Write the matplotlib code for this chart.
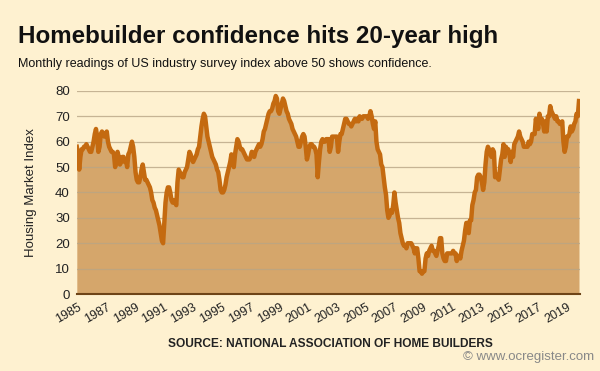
import numpy as np
import matplotlib
matplotlib.use("Agg")
import matplotlib.pyplot as plt

# Monthly NAHB housing market index readings, Jan 1985 - Dec 2019
hmi_by_year = {
    1985: [58, 55, 49, 54, 57, 57, 58, 58, 59, 58, 57, 56],
    1986: [56, 58, 60, 63, 65, 62, 56, 58, 63, 64, 63, 62],
    1987: [63, 64, 60, 58, 57, 56, 56, 55, 50, 53, 56, 54],
    1988: [51, 52, 54, 54, 52, 53, 50, 55, 56, 58, 60, 58],
    1989: [54, 48, 45, 44, 44, 46, 49, 51, 48, 45, 45, 44],
    1990: [43, 42, 40, 37, 36, 34, 33, 31, 29, 27, 24, 21],
    1991: [20, 28, 36, 40, 42, 42, 40, 37, 36, 37, 36, 35],
    1992: [44, 49, 48, 47, 46, 46, 48, 49, 50, 53, 56, 55],
    1993: [53, 52, 53, 54, 55, 57, 58, 62, 66, 69, 71, 70],
    1994: [66, 62, 60, 58, 56, 54, 53, 52, 51, 49, 48, 45],
    1995: [41, 40, 40, 41, 43, 46, 48, 50, 52, 55, 53, 50],
    1996: [55, 58, 61, 60, 58, 57, 57, 56, 55, 54, 53, 53],
    1997: [53, 54, 56, 55, 54, 56, 57, 58, 59, 58, 59, 61],
    1998: [64, 65, 67, 69, 71, 72, 72, 73, 75, 76, 78, 77],
    1999: [72, 71, 73, 75, 77, 76, 74, 72, 71, 69, 68, 67],
    2000: [65, 64, 63, 62, 60, 58, 58, 60, 62, 63, 62, 58],
    2001: [53, 55, 58, 59, 59, 58, 58, 57, 55, 46, 52, 57],
    2002: [60, 61, 60, 60, 61, 61, 61, 56, 58, 62, 62, 62],
    2003: [62, 62, 56, 60, 63, 63, 65, 67, 69, 69, 68, 67],
    2004: [67, 66, 67, 68, 69, 68, 69, 68, 70, 69, 69, 70],
    2005: [70, 70, 70, 69, 70, 72, 70, 67, 65, 68, 60, 57],
    2006: [56, 55, 51, 50, 46, 42, 39, 33, 30, 31, 33, 32],
    2007: [35, 40, 36, 33, 30, 28, 24, 22, 20, 19, 19, 18],
    2008: [20, 20, 20, 20, 19, 18, 16, 18, 18, 14, 9, 9],
    2009: [8, 9, 9, 14, 16, 15, 17, 18, 19, 17, 17, 16],
    2010: [15, 17, 19, 22, 22, 16, 14, 13, 13, 16, 16, 16],
    2011: [16, 16, 17, 16, 16, 13, 15, 15, 14, 17, 19, 21],
    2012: [25, 28, 28, 24, 29, 29, 35, 37, 40, 41, 46, 47],
    2013: [47, 46, 44, 41, 44, 51, 56, 58, 57, 55, 54, 57],
    2014: [56, 46, 47, 46, 45, 49, 53, 55, 59, 54, 58, 57],
    2015: [57, 55, 52, 56, 54, 59, 60, 61, 62, 64, 62, 61],
    2016: [60, 58, 58, 58, 58, 60, 59, 60, 63, 63, 63, 69],
    2017: [67, 65, 71, 68, 69, 67, 64, 68, 64, 70, 70, 74],
    2018: [72, 71, 70, 69, 70, 68, 68, 67, 67, 68, 60, 56],
    2019: [58, 62, 62, 63, 66, 64, 65, 67, 68, 71, 70, 76],
}
tick_years = list(range(1985, 2020, 2))
y_ticks = [0, 10, 20, 30, 40, 50, 60, 70, 80]

years = []
values = []
for yr, months in hmi_by_year.items():
    for m, v in enumerate(months):
        years.append(yr + m / 12)
        values.append(v)
years = np.array(years)
values = np.array(values)

bg = "#FEF1D0"
fig = plt.figure(figsize=(6, 3.71), dpi=100, facecolor=bg)
ax = fig.add_axes([0.128, 0.2075, 0.839, 0.5475], facecolor=bg)

ax.fill_between(years, values, 0, color="#D5A66B", zorder=1, linewidth=0)
ax.plot(years, values, color="#C46A10", linewidth=3.2, zorder=3, solid_joinstyle="round")

ax.set_xlim(1985, 2020)
ax.set_ylim(0, 80)
ax.set_yticks(y_ticks)
# year labels sit about half a year to the right of January in the original
ax.set_xticks([y + 0.5 for y in tick_years])
ax.set_xticklabels([str(y) for y in tick_years], rotation=30, ha="right",
                   fontsize=9, family="Liberation Sans", color="#222222")
ax.set_yticklabels([str(v) for v in y_ticks], fontsize=9.5,
                   family="Liberation Sans", color="#222222")

ax.tick_params(axis="both", length=0)
ax.tick_params(axis="x", pad=5)
ax.tick_params(axis="y", pad=5)
ax.set_axisbelow(False)
ax.yaxis.grid(True, color="#B9A585", linewidth=0.9, alpha=0.8)
ax.xaxis.grid(False)
for s in ["top", "right", "left"]:
    ax.spines[s].set_visible(False)
ax.spines["bottom"].set_color("#6E4417")
ax.spines["bottom"].set_linewidth(1.5)
ax.spines["bottom"].set_zorder(4)

ax.set_ylabel("Housing Market Index", fontsize=9.5, family="Liberation Sans",
              color="#222222", labelpad=13)

fig.text(0.03, 0.902, "Homebuilder confidence hits 20-year high", fontsize=17.4,
         fontweight="bold", family="Liberation Sans", color="#111111", va="center")
fig.text(0.03, 0.828, "Monthly readings of US industry survey index above 50 shows confidence.",
         fontsize=9, family="Liberation Sans", color="#111111", va="center")
fig.text(0.55, 0.072, "SOURCE: NATIONAL ASSOCIATION OF HOME BUILDERS", fontsize=8.6,
         fontweight="bold", family="Liberation Sans", color="#222222",
         ha="center", va="center")
fig.text(0.99, 0.037, "\u00a9 www.ocregister.com", fontsize=9.5,
         family="Liberation Sans", color="#888888", ha="right", va="center")

fig.savefig("out.png", dpi=100, facecolor=bg)
